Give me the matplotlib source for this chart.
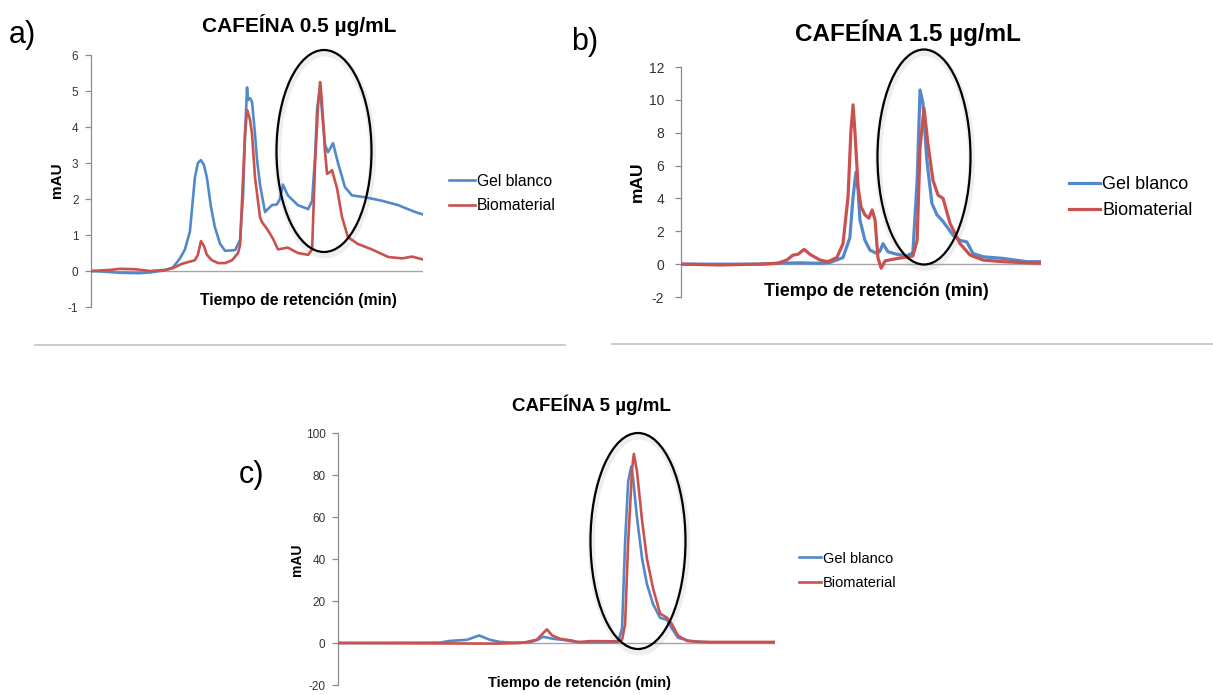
import matplotlib
matplotlib.use("Agg")
import matplotlib.pyplot as plt
from matplotlib.patches import Ellipse
from matplotlib.lines import Line2D

plt.rcParams["font.family"] = ["Liberation Sans", "DejaVu Sans"]
plt.rcParams["axes.unicode_minus"] = False

# ---- datos (tiempo en min arbitrario 0-10, señal en mAU) ----
# a) CAFEÍNA 0.5 µg/mL
t_a_gel = [0.00, 0.42, 0.87, 1.48, 1.78, 2.23, 2.47, 2.68, 2.83, 2.98, 3.13, 3.22, 3.31,
           3.40, 3.49, 3.61, 3.73, 3.89, 4.04, 4.34, 4.49, 4.58, 4.64, 4.70, 4.73, 4.79,
           4.85, 4.94, 5.00, 5.09, 5.24, 5.45, 5.60, 5.69, 5.78, 5.93, 6.23, 6.54, 6.66,
           6.75, 6.81, 6.90, 6.96, 7.05, 7.14, 7.29, 7.44, 7.65, 7.86, 8.25, 8.77, 9.25,
           9.76, 10.00]
y_a_gel = [0.00, -0.02, -0.05, -0.06, -0.04, 0.02, 0.10, 0.35, 0.60, 1.10, 2.60, 3.00, 3.08,
           2.95, 2.60, 1.80, 1.22, 0.75, 0.56, 0.58, 0.86, 2.10, 3.80, 5.10, 4.75, 4.80,
           4.70, 3.80, 3.10, 2.40, 1.64, 1.83, 1.85, 2.00, 2.40, 2.10, 1.83, 1.72, 1.95,
           3.20, 4.50, 5.10, 4.40, 3.50, 3.30, 3.55, 3.00, 2.33, 2.10, 2.05, 1.95, 1.83,
           1.64, 1.57]
t_a_bio = [0.00, 0.57, 0.87, 1.33, 1.78, 2.23, 2.47, 2.74, 3.13, 3.22, 3.31, 3.40, 3.49,
           3.64, 3.83, 4.04, 4.25, 4.43, 4.49, 4.58, 4.64, 4.70, 4.76, 4.79, 4.85, 4.94,
           5.09, 5.15, 5.33, 5.48, 5.63, 5.93, 6.23, 6.54, 6.66, 6.75, 6.84, 6.90, 6.93,
           6.99, 7.05, 7.11, 7.20, 7.26, 7.41, 7.56, 7.74, 8.04, 8.46, 8.95, 9.37, 9.67,
           10.00]
y_a_bio = [0.00, 0.03, 0.06, 0.05, 0.00, 0.03, 0.08, 0.20, 0.30, 0.45, 0.83, 0.70, 0.45,
           0.30, 0.22, 0.22, 0.30, 0.50, 0.72, 2.60, 3.80, 4.47, 4.30, 4.20, 3.80, 2.60,
           1.50, 1.36, 1.13, 0.90, 0.60, 0.65, 0.50, 0.45, 0.60, 3.00, 4.60, 5.25, 5.00,
           4.20, 3.30, 2.70, 2.75, 2.80, 2.30, 1.50, 0.94, 0.75, 0.60, 0.39, 0.35, 0.40,
           0.32]

# b) CAFEÍNA 1.5 µg/mL
t_b_gel = [0.00, 2.19, 2.67, 3.31, 3.86, 4.14, 4.50, 4.69, 4.78, 4.86, 4.92, 4.97, 5.11,
           5.25, 5.44, 5.53, 5.61, 5.75, 6.00, 6.28, 6.44, 6.56, 6.64, 6.72, 6.83, 6.97,
           7.11, 7.28, 7.56, 7.75, 7.94, 8.11, 8.39, 8.94, 9.61, 10.00]
y_b_gel = [0.00, 0.00, 0.05, 0.08, 0.05, 0.10, 0.40, 1.60, 4.10, 5.60, 4.50, 2.70, 1.45,
           0.85, 0.65, 0.80, 1.25, 0.75, 0.60, 0.50, 0.70, 5.10, 10.6, 9.80, 6.30, 3.70,
           3.00, 2.60, 1.75, 1.45, 1.35, 0.65, 0.45, 0.35, 0.15, 0.15]
t_b_bio = [0.00, 1.08, 2.19, 2.67, 2.94, 3.11, 3.25, 3.42, 3.58, 3.86, 4.08, 4.33, 4.50,
           4.64, 4.72, 4.78, 4.83, 4.92, 5.00, 5.11, 5.22, 5.31, 5.39, 5.47, 5.56, 5.67,
           5.89, 6.17, 6.44, 6.56, 6.64, 6.75, 6.86, 7.00, 7.14, 7.28, 7.47, 7.75, 8.03,
           8.39, 8.94, 9.42, 10.00]
y_b_bio = [0.00, -0.05, 0.00, 0.05, 0.25, 0.55, 0.60, 0.90, 0.60, 0.25, 0.15, 0.40, 1.25,
           4.10, 8.10, 9.70, 8.10, 4.70, 3.50, 3.00, 2.80, 3.30, 2.70, 0.40, -0.25, 0.20,
           0.30, 0.40, 0.50, 1.45, 7.10, 9.50, 7.30, 5.10, 4.20, 4.00, 2.50, 1.25, 0.55,
           0.25, 0.15, 0.10, 0.05]

# c) CAFEÍNA 5 µg/mL
t_c_gel = [0.00, 2.33, 2.56, 2.95, 3.23, 3.48, 3.71, 4.00, 4.39, 4.58, 4.69, 4.92, 5.15,
           5.38, 5.61, 6.22, 6.41, 6.50, 6.57, 6.64, 6.71, 6.75, 6.84, 6.96, 7.07, 7.21,
           7.37, 7.53, 7.64, 7.78, 8.05, 8.51, 10.00]
y_c_gel = [0.0, 0.2, 1.0, 1.5, 3.6, 1.5, 0.5, 0.2, 0.3, 1.6, 3.0, 2.0, 1.5,
           0.7, 0.3, 0.4, 0.5, 7.0, 48.0, 77.0, 84.0, 79.0, 60.0, 40.0, 28.0, 18.5,
           12.0, 11.0, 7.0, 2.5, 1.0, 0.3, 0.3]
t_c_bio = [0.00, 3.64, 4.16, 4.32, 4.55, 4.78, 4.90, 5.08, 5.35, 5.49, 5.77, 6.38, 6.50,
           6.57, 6.64, 6.73, 6.77, 6.84, 6.96, 7.07, 7.21, 7.37, 7.53, 7.64, 7.78, 7.99,
           8.28, 10.00]
y_c_bio = [0.0, -0.3, 0.0, 0.5, 1.6, 6.5, 3.6, 2.0, 1.2, 0.4, 0.9, 0.8, 1.5,
           9.0, 48.0, 83.0, 90.0, 82.0, 58.0, 40.0, 26.0, 14.0, 12.0, 9.0, 3.5, 1.0,
           0.5, 0.5]

series_labels = ["Gel blanco", "Biomaterial"]
col_gel = "#5289CB"
col_bio = "#C9524F"

# ---- figura ----
W, H = 1213, 695
fig = plt.figure(figsize=(W / 100, H / 100), dpi=100)


def fx(x):
    return x / W


def fy(y):
    return 1 - y / H


def panel(left, top, right, bottom, ylim, yticks, tick_size, pad, lw,
          tg, yg, tb, yb, leg_x, leg_y, leg_size, leg_hl, leg_ls):
    ax = fig.add_axes([fx(left), fy(bottom), (right - left) / W, (bottom - top) / H])
    ax.patch.set_alpha(0)
    ax.set_xlim(0, 10)
    ax.set_ylim(ylim)
    ax.set_yticks(yticks)
    ax.set_xticks([])
    for s in ["top", "right", "bottom"]:
        ax.spines[s].set_visible(False)
    ax.spines["left"].set_color("#8c8c8c")
    ax.spines["left"].set_linewidth(0.9)
    ax.axhline(0, color="#a6a6a6", lw=1.0, zorder=1)
    ax.tick_params(axis="y", direction="out", length=4, width=0.9, color="#8c8c8c",
                   labelsize=tick_size, labelcolor="#333333", pad=pad)
    l1, = ax.plot(tg, yg, color=col_gel, lw=lw, zorder=3, solid_joinstyle="round")
    l2, = ax.plot(tb, yb, color=col_bio, lw=lw, zorder=4, solid_joinstyle="round")
    ax.legend([l1, l2], series_labels, loc="center left",
              bbox_to_anchor=(fx(leg_x), fy(leg_y)), bbox_transform=fig.transFigure,
              frameon=False, borderpad=0, borderaxespad=0, fontsize=leg_size,
              handlelength=leg_hl, handletextpad=0.15, labelspacing=leg_ls)
    return ax


def circle(cx, cy, w, h):
    sh = Ellipse((fx(cx + 1), fy(cy + 3)), w / W, h / H, transform=fig.transFigure,
                 fill=False, ec="#eeeeee", lw=5, zorder=0)
    fig.add_artist(sh)
    el = Ellipse((fx(cx), fy(cy)), w / W, h / H, transform=fig.transFigure,
                 fill=False, ec="black", lw=1.6, zorder=10)
    fig.add_artist(el)


# a)
panel(91, 55, 423, 307, (-1, 6), range(-1, 7), 8.5, 5, 1.9,
      t_a_gel, y_a_gel, t_a_bio, y_a_bio, 449, 193.5, 11.3, 1.65, 0.58)
fig.text(fx(299), fy(25), "CAFEÍNA 0.5 µg/mL", ha="center", va="center",
         fontsize=15, fontweight="bold")
fig.text(fx(298), fy(300), "Tiempo de retención (min)", ha="center", va="center",
         fontsize=11.3, fontweight="bold")
fig.text(fx(57), fy(180), "mAU", ha="center", va="center", rotation=90,
         fontsize=11, fontweight="bold")
fig.text(fx(9), fy(35), "a)", ha="left", va="center", fontsize=22)
circle(324, 151, 95, 202)
fig.add_artist(Line2D([fx(35), fx(565)], [fy(345), fy(345)], transform=fig.transFigure,
                      color="#c4c4c4", lw=1.2))

# b)
panel(681, 67, 1041, 297, (-2, 12), range(-2, 13, 2), 10, 8, 2.3,
      t_b_gel, y_b_gel, t_b_bio, y_b_bio, 1069, 197.5, 13, 1.7, 0.5)
fig.text(fx(908), fy(33), "CAFEÍNA 1.5 µg/mL", ha="center", va="center",
         fontsize=17.5, fontweight="bold")
fig.text(fx(876), fy(291), "Tiempo de retención (min)", ha="center", va="center",
         fontsize=13, fontweight="bold")
fig.text(fx(637), fy(182), "mAU", ha="center", va="center", rotation=90,
         fontsize=12.5, fontweight="bold")
fig.text(fx(571), fy(42), "b)", ha="left", va="center", fontsize=22)
circle(924, 157, 93, 215)
fig.add_artist(Line2D([fx(612), fx(1213)], [fy(344), fy(344)], transform=fig.transFigure,
                      color="#c4c4c4", lw=1.2))

# c)
panel(338, 433, 775, 685, (-20, 100), range(-20, 101, 20), 8.5, 5, 1.9,
      t_c_gel, y_c_gel, t_c_bio, y_c_bio, 799, 571, 10.5, 1.5, 0.75)
fig.text(fx(591), fy(405), "CAFEÍNA 5 µg/mL", ha="center", va="center",
         fontsize=13.5, fontweight="bold")
fig.text(fx(580), fy(683), "Tiempo de retención (min)", ha="center", va="center",
         fontsize=10.5, fontweight="bold")
fig.text(fx(297), fy(560), "mAU", ha="center", va="center", rotation=90,
         fontsize=10, fontweight="bold")
fig.text(fx(239), fy(475), "c)", ha="left", va="center", fontsize=22)
circle(638, 541, 95, 216)

fig.savefig("out.png", dpi=100)
